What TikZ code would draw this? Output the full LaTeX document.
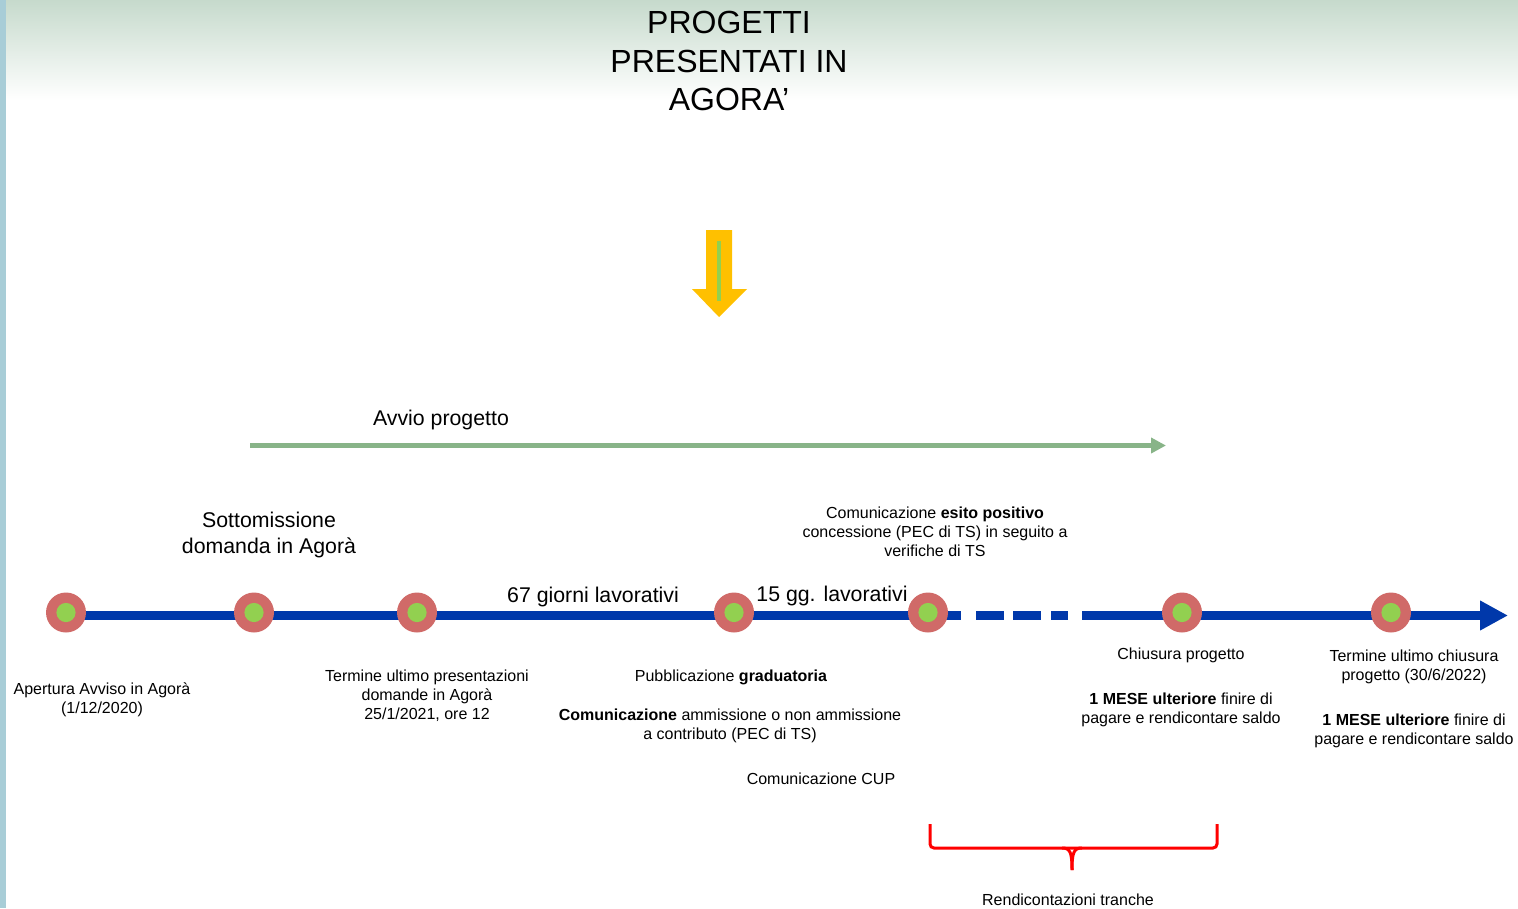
\documentclass[tikz,border=0pt]{standalone}
\usepackage{fontspec}
\setmainfont{Liberation Sans}
\usetikzlibrary{arrows.meta,backgrounds}
\definecolor{tlblue}{RGB}{0,56,170}
\definecolor{dotred}{RGB}{208,106,104}
\definecolor{dotgreen}{RGB}{146,208,80}
\definecolor{arryellow}{RGB}{255,192,0}
\definecolor{avviogreen}{RGB}{136,180,136}
\definecolor{sidebar}{RGB}{168,205,215}
\definecolor{headtop}{RGB}{198,218,204}
\definecolor{bracered}{RGB}{255,0,0}
\tikzset{
  smalltxt/.style={font=\fontsize{16}{19}\selectfont, align=center, inner sep=0pt},
  bigtxt/.style={font=\fontsize{21.3}{26}\selectfont, align=center, inner sep=0pt},
  titletxt/.style={font=\fontsize{32}{38.5}\selectfont, align=center, inner sep=0pt},
  milestone/.style={circle, fill=dotred, minimum size=40pt, inner sep=0pt,
    path picture={\fill[dotgreen] (path picture bounding box.center) circle (9.6pt);}},
  timeline/.style={draw=tlblue, line width=9pt, transform canvas={yshift=-3pt}},
  bracestyle/.style={draw=bracered, line width=3pt, rounded corners=4pt},
}
\begin{document}
\begin{tikzpicture}[x=1pt,y=-1pt]
\useasboundingbox (0,0) rectangle (1518,908);
% header gradient and side bar
\shade[top color=headtop, bottom color=white] (6,0) rectangle (1518,100);
\fill[sidebar] (0,0) rectangle (6,908);

% title
\node[titletxt] (title) at (729,61) {PROGETTI\\PRESENTATI IN\\AGORA’};

% yellow arrow
\fill[arryellow] (706,230) -- (732,230) -- (732,289) -- (747,289) -- (719,317) -- (692,289) -- (706,289) -- cycle;
\draw[dotgreen, line width=4pt] (719,241) -- (719,301);

% avvio progetto
\node[bigtxt] (avvio) at (441,420) {Avvio progetto};
\coordinate (avs) at (250,445.5);
\coordinate (ave) at (1166,445.5);
\draw[avviogreen, line width=4.5pt, -{Triangle[length=15pt,width=15pt]}] (avs) -- (ave);

% milestones
\node[milestone] (m1) at (66,612.5) {};
\node[milestone] (m2) at (254,612.5) {};
\node[milestone] (m3) at (417,612.5) {};
\node[milestone] (m4) at (734,612.5) {};
\node[milestone] (m5) at (928,612.5) {};
\node[milestone] (m6) at (1182,612.5) {};
\node[milestone] (m7) at (1391,612.5) {};
\coordinate (tlend) at (1508,612.5);

\begin{scope}[on background layer]
\draw[timeline] (m1.center) -- (m2.center) -- (m3.center) -- (m4.center) -- (m5.center);
\draw[timeline, dash pattern=on 33pt off 15pt on 28pt off 9pt on 28pt off 10pt on 17pt off 14pt on 400pt] (m5.center) -- (m6.center);
\draw[timeline] (m6.center) -- (m7.center);
\draw[timeline, -{Triangle[length=28pt,width=28pt]}] (m7.center) -- (tlend);
\end{scope}

% labels above
\node[bigtxt] (sott) at (269,534.5) {Sottomissione\\domanda in Agorà};
\node[bigtxt] (g67) at (593,597) {67 giorni lavorativi};
\node[bigtxt] (g15) at (832,596) {15 gg. lavorativi};
\node[smalltxt] (esito) at (935,531.5) {Comunicazione \textbf{esito positivo}\\concessione (PEC di TS) in seguito a\\verifiche di TS};

% labels below
\node[smalltxt] (apert) at (102,699.5) {Apertura Avviso in Agorà\\(1/12/2020)};
\node[smalltxt] (termpres) at (427,696) {Termine ultimo presentazioni\\domande in Agorà\\25/1/2021, ore 12};
\node[smalltxt] (pubbl) at (731,677) {Pubblicazione \textbf{graduatoria}};
\node[smalltxt] (ammiss) at (730,725.5) {\textbf{Comunicazione} ammissione o non ammissione\\a contributo (PEC di TS)};
\node[smalltxt] (cup) at (821,779) {Comunicazione CUP};
\node[smalltxt] (chius) at (1181,655) {Chiusura progetto};
\node[smalltxt] (mese1) at (1181,709.5) {\textbf{1 MESE ulteriore} finire di\\pagare e rendicontare saldo};
\node[smalltxt] (termchius) at (1414,666.5) {Termine ultimo chiusura\\progetto (30/6/2022)};
\node[smalltxt] (mese2) at (1414,730.5) {\textbf{1 MESE ulteriore} finire di\\pagare e rendicontare saldo};

% brace
\draw[bracestyle] (930,824) -- (930,848) -- (1217,848) -- (1217,824);
\draw[draw=bracered, line width=3pt] (1062,848) .. controls (1070,848) and (1072,852) .. (1072,870);
\draw[draw=bracered, line width=3pt] (1082,848) .. controls (1074,848) and (1072,852) .. (1072,870);
\node[smalltxt] (rend) at (1068,899.5) {Rendicontazioni tranche};
\end{tikzpicture}
\end{document}
